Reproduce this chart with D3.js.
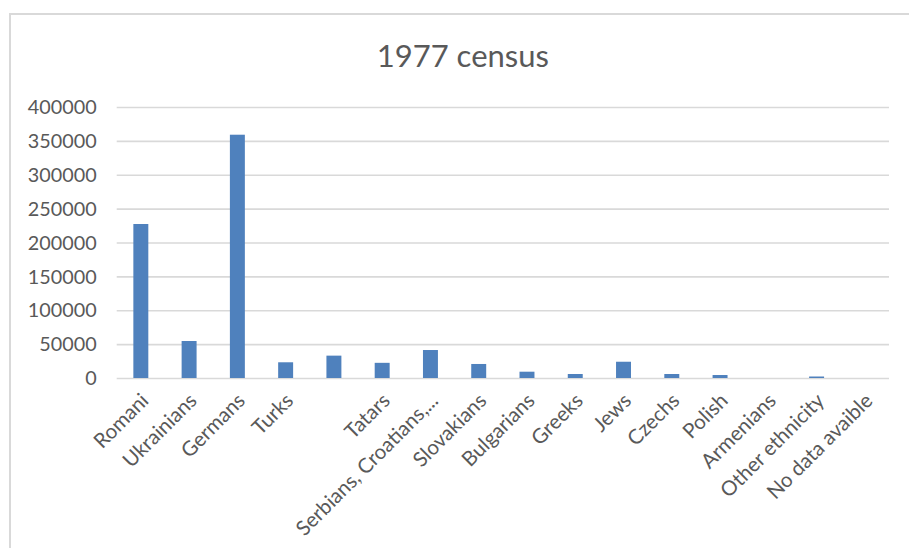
<!DOCTYPE html>
<html>
<head>
<meta charset="utf-8">
<script src="https://cdn.jsdelivr.net/npm/d3@7"></script>
<style>
  html, body { margin: 0; padding: 0; background: #fff; }
  svg { display: block; }
  text { font-family: Lato, "Open Sans", sans-serif; fill: #595959; }
</style>
</head>
<body>
<svg id="chart" width="909" height="548"></svg>
<script>
// Population by nationality, 1977 census
const categories = [
  "Romani", "Ukrainians", "Germans", "Turks", "", "Tatars",
  "Serbians, Croatians,...", "Slovakians", "Bulgarians", "Greeks", "Jews",
  "Czechs", "Polish", "Armenians", "Other ethnicity", "No data avaible"
];
const population = [
  227300, 54600, 359100, 23200, 33000, 22400,
  41300, 20700, 9300, 5900, 24000,
  5900, 4400, 0, 2200, 0
];
const yTicks = [0, 50000, 100000, 150000, 200000, 250000, 300000, 350000, 400000];
const titleText = "1977 census";

const svg = d3.select("#chart");
const W = 909, H = 548;

// chart frame
svg.append("rect")
  .attr("x", 10).attr("y", 14)
  .attr("width", W + 20).attr("height", H + 20)
  .attr("fill", "#fff")
  .attr("stroke", "#d9d9d9").attr("stroke-width", 2);

const plot = { left: 116.7, right: 889, top: 107, bottom: 378 };

const x = d3.scaleBand()
  .domain(d3.range(categories.length))
  .range([plot.left, plot.right])
  .paddingInner(0.69)
  .paddingOuter(0.345);

const y = d3.scaleLinear()
  .domain([0, 400000])
  .range([plot.bottom, plot.top]);

// title
svg.append("text")
  .attr("x", (plot.left + plot.right) / 2 - 40)
  .attr("y", 67)
  .attr("text-anchor", "middle")
  .style("font-size", "31px")
  .text(titleText);

// horizontal gridlines
const yAxis = d3.axisLeft(y)
  .tickValues(yTicks)
  .tickSize(-(plot.right - plot.left))
  .tickPadding(20)
  .tickFormat(d3.format("d"));

const gy = svg.append("g")
  .attr("transform", `translate(${plot.left},0)`)
  .call(yAxis);
gy.select(".domain").remove();
gy.selectAll(".tick line")
  .attr("stroke", "#d9d9d9")
  .attr("stroke-width", 1.6);
gy.selectAll(".tick text")
  .attr("fill", "#595959")
  .style("font-size", "19.8px")
  .attr("dy", "0.34em");

// bars
svg.append("g")
  .selectAll("rect")
  .data(population)
  .join("rect")
  .attr("x", (d, i) => x(i))
  .attr("width", x.bandwidth())
  .attr("y", d => y(d))
  .attr("height", d => y(0) - y(d))
  .attr("fill", "#4f81bd");

// category axis
const xAxis = d3.axisBottom(x)
  .tickSize(0)
  .tickFormat(i => categories[i]);

const gx = svg.append("g")
  .attr("transform", `translate(0,${plot.bottom})`)
  .call(xAxis);
gx.select(".domain").remove();
gx.selectAll(".tick text")
  .attr("fill", "#595959")
  .style("font-size", "20.5px")
  .attr("text-anchor", "end")
  .attr("dy", 0)
  .attr("transform", "translate(9,24) rotate(-45)")
  .attr("y", 0);
</script>
</body>
</html>
